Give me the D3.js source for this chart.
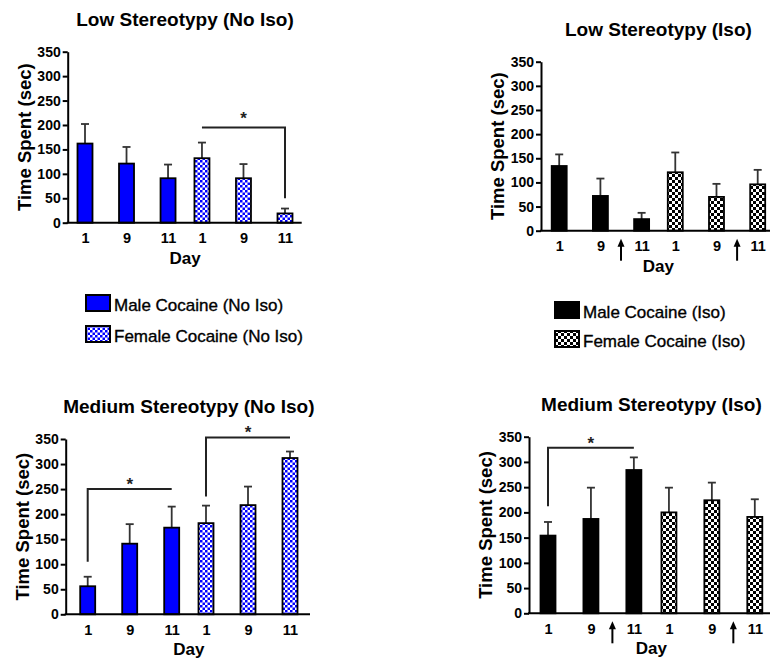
<!DOCTYPE html>
<html><head><meta charset="utf-8">
<script src="https://cdn.jsdelivr.net/npm/d3@7"></script>
<style>
body{margin:0;background:#fff}
svg text{font-family:"Liberation Sans",Arial,sans-serif;}
</style>
</head><body>
<svg id="chart" width="770" height="664"></svg>
<script>
// ---------- data ----------
const days = ["1", "9", "11"];
const groups = ["Male", "Female"];
const yTicks = [0, 50, 100, 150, 200, 250, 300, 350];

const lowNoIsoMale      = [162, 121, 91];
const lowNoIsoMaleSem   = [40, 34, 28];
const lowNoIsoFemale    = [132, 91, 19];
const lowNoIsoFemaleSem = [32, 29, 10];

const lowIsoMale        = [134, 72, 24];
const lowIsoMaleSem     = [24, 36, 13];
const lowIsoFemale      = [121, 70, 96];
const lowIsoFemaleSem   = [41, 27, 30];

const medNoIsoMale      = [56, 141, 173];
const medNoIsoMaleSem   = [19, 39, 42];
const medNoIsoFemale    = [182, 218, 312];
const medNoIsoFemaleSem = [35, 37, 13];

const medIsoMale        = [154, 187, 284];
const medIsoMaleSem     = [27, 62, 25];
const medIsoFemale      = [200, 224, 191];
const medIsoFemaleSem   = [49, 35, 35];

const titles = ["Low Stereotypy (No Iso)", "Low Stereotypy (Iso)",
                "Medium Stereotypy (No Iso)", "Medium Stereotypy (Iso)"];
const yTitle = "Time Spent (sec)";
const xTitle = "Day";
const legendNoIso = ["Male Cocaine (No Iso)", "Female Cocaine (No Iso)"];
const legendIso = ["Male Cocaine (Iso)", "Female Cocaine (Iso)"];

// significance brackets: from/to = [group, day], level = y value, legs = lower end of legs (null = none)
const bracketsLowNoIso = [{from:["Female","1"], to:["Female","11"], level:195, leftLeg:null, rightLeg:50, starLift:4}];
const bracketsMedNoIso = [
  {from:["Male","1"], to:["Male","11"], level:250, leftLeg:105, rightLeg:null, starLift:0},
  {from:["Female","1"], to:["Female","11"], level:353, leftLeg:235, rightLeg:null, starLift:0}
];
const bracketsMedIso = [{from:["Male","1"], to:["Male","11"], level:328, leftLeg:212, rightLeg:null, starLift:0}];
// arrows between day 9 and day 11 in each group (Iso panels)
const arrowsIso = [{group:"Male", between:["9","11"]}, {group:"Female", between:["9","11"]}];

// ---------- layout ----------
const svg = d3.select("#chart");
svg.append("rect").attr("width", 770).attr("height", 664).attr("fill", "#fff");

const defs = svg.append("defs");
function checker(id, color, cell) {
  const p = defs.append("pattern").attr("id", id).attr("patternUnits", "userSpaceOnUse")
    .attr("width", cell * 2).attr("height", cell * 2);
  p.append("rect").attr("width", cell * 2).attr("height", cell * 2).attr("fill", "#fff");
  p.append("rect").attr("width", cell).attr("height", cell).attr("fill", color);
  p.append("rect").attr("x", cell).attr("y", cell).attr("width", cell).attr("height", cell).attr("fill", color);
}
const BLUE = "#0000ff";
checker("chkBlue", BLUE, 2.5);
checker("chkBlack", "#000", 3);

const panels = [
  {title:titles[0], male:lowNoIsoMale, maleSem:lowNoIsoMaleSem, female:lowNoIsoFemale, femaleSem:lowNoIsoFemaleSem,
   maleFill:BLUE, femaleFill:"url(#chkBlue)", brackets:bracketsLowNoIso, arrows:[],
   axisX:67.7, axisEnd:301.7, y0:222.7, yTop:51.7, first:85, last:285},
  {title:titles[1], male:lowIsoMale, maleSem:lowIsoMaleSem, female:lowIsoFemale, femaleSem:lowIsoFemaleSem,
   maleFill:"#000", femaleFill:"url(#chkBlack)", brackets:[], arrows:arrowsIso,
   axisX:541, axisEnd:770, y0:230.7, yTop:61.7, first:559.2, last:757.7},
  {title:titles[2], male:medNoIsoMale, maleSem:medNoIsoMaleSem, female:medNoIsoFemale, femaleSem:medNoIsoFemaleSem,
   maleFill:BLUE, femaleFill:"url(#chkBlue)", brackets:bracketsMedNoIso, arrows:[],
   axisX:65.7, axisEnd:310, y0:614.3, yTop:439, first:87.7, last:290},
  {title:titles[3], male:medIsoMale, maleSem:medIsoMaleSem, female:medIsoFemale, femaleSem:medIsoFemaleSem,
   maleFill:"#000", femaleFill:"url(#chkBlack)", brackets:bracketsMedIso, arrows:arrowsIso,
   axisX:529, axisEnd:770, y0:613.3, yTop:436.7, first:548, last:754.8}
];

const BAR_W = 15;
const FONT = "Liberation Sans, Arial, sans-serif";

panels.forEach(P => {
  const g = svg.append("g");
  const y = d3.scaleLinear().domain([0, 350]).range([P.y0, P.yTop]);
  const outer = d3.scaleBand().domain(groups).range([P.first, P.last]).paddingInner(0.29);
  const inner = d3.scalePoint().domain(days).range([0, outer.bandwidth()]);
  const xPos = (grp, day) => outer(grp) + inner(day);
  const mid = (P.first + P.last) / 2;

  const rows = [];
  groups.forEach(grp => days.forEach((d, i) => {
    const isMale = grp === "Male";
    rows.push({grp, day:d, v:(isMale ? P.male : P.female)[i], sem:(isMale ? P.maleSem : P.femaleSem)[i],
               fill: isMale ? P.maleFill : P.femaleFill});
  }));

  // title
  g.append("text").attr("x", mid).attr("y", P.yTop - 26).attr("text-anchor", "middle")
    .attr("font-size", 19).attr("font-weight", "bold").attr("fill", "#000").text(P.title);

  // error bars
  const eb = g.append("g").attr("stroke", "#333").attr("stroke-width", 1.8);
  rows.forEach(r => {
    const cx = xPos(r.grp, r.day);
    eb.append("line").attr("x1", cx).attr("x2", cx).attr("y1", y(r.v)).attr("y2", y(r.v + r.sem));
    eb.append("line").attr("x1", cx - 4).attr("x2", cx + 4).attr("y1", y(r.v + r.sem)).attr("y2", y(r.v + r.sem));
  });

  // bars
  g.append("g").selectAll("rect").data(rows).join("rect")
    .attr("x", r => xPos(r.grp, r.day) - BAR_W / 2)
    .attr("width", BAR_W)
    .attr("y", r => y(r.v))
    .attr("height", r => y(0) - y(r.v))
    .attr("fill", r => r.fill)
    .attr("stroke", "#000").attr("stroke-width", 1.8);

  // y axis
  const ya = g.append("g").attr("transform", `translate(${P.axisX},0)`)
    .call(d3.axisLeft(y).tickValues(yTicks).tickSize(5).tickSizeOuter(0).tickPadding(2));
  ya.selectAll("path,line").attr("stroke", "#000").attr("stroke-width", 2);
  ya.selectAll("text").attr("font-size", 14).attr("font-weight", "bold").attr("fill", "#000")
    .attr("font-family", FONT);

  // x axis baseline
  g.append("line").attr("x1", P.axisX - 1).attr("x2", P.axisEnd).attr("y1", y(0)).attr("y2", y(0))
    .attr("stroke", "#000").attr("stroke-width", 2);
  groups.forEach(grp => {
    const xa = g.append("g").attr("transform", `translate(${outer(grp)},${y(0)})`)
      .call(d3.axisBottom(inner).tickSize(0).tickPadding(10));
    xa.select(".domain").remove();
    xa.selectAll("text").attr("font-size", 14.5).attr("font-weight", "bold").attr("fill", "#000")
      .attr("font-family", FONT);
  });

  // axis titles
  g.append("text").attr("transform", `translate(${P.axisX - 43.5},${(P.y0 + P.yTop) / 2}) rotate(-90)`)
    .attr("text-anchor", "middle").attr("dy", "0.35em").attr("font-size", 18.5).attr("font-weight", "bold")
    .attr("fill", "#000").text(yTitle);
  g.append("text").attr("x", mid).attr("y", P.y0 + 41).attr("text-anchor", "middle")
    .attr("font-size", 17).attr("font-weight", "bold").attr("fill", "#000").text(xTitle);

  // significance brackets
  P.brackets.forEach(b => {
    const x1 = xPos(b.from[0], b.from[1]), x2 = xPos(b.to[0], b.to[1]);
    let d = "";
    if (b.leftLeg !== null) d += `M${x1},${y(b.leftLeg)}L${x1},${y(b.level)}`; else d += `M${x1},${y(b.level)}`;
    d += `L${x2},${y(b.level)}`;
    if (b.rightLeg !== null) d += `L${x2},${y(b.rightLeg)}`;
    g.append("path").attr("d", d).attr("fill", "none").attr("stroke", "#222").attr("stroke-width", 2);
    g.append("text").attr("x", (x1 + x2) / 2).attr("y", y(b.level) + 1 - b.starLift).attr("text-anchor", "middle")
      .attr("font-size", 17).attr("font-weight", "bold").attr("fill", "#222").text("*");
  });

  // arrows
  P.arrows.forEach(a => {
    const ax = (xPos(a.group, a.between[0]) + xPos(a.group, a.between[1])) / 2;
    const top = y(0) + 8, bot = y(0) + 30;
    g.append("line").attr("x1", ax).attr("x2", ax).attr("y1", top + 6).attr("y2", bot)
      .attr("stroke", "#000").attr("stroke-width", 2);
    g.append("path").attr("d", `M${ax - 3.5},${top + 8}L${ax},${top}L${ax + 3.5},${top + 8}Z`).attr("fill", "#000");
  });
});

// ---------- legends ----------
function legend(x, rowsY, labels, fills, boxStroke) {
  const lg = svg.append("g");
  labels.forEach((lab, i) => {
    lg.append("rect").attr("x", x).attr("y", rowsY[i]).attr("width", 24).attr("height", 16)
      .attr("fill", fills[i]).attr("stroke", boxStroke[i]).attr("stroke-width", 2);
    lg.append("text").attr("x", x + 28).attr("y", rowsY[i] + 15.5).attr("font-size", 17)
      .attr("fill", "#000").attr("stroke", "#000").attr("stroke-width", 0.35).text(lab);
  });
}
legend(86, [295, 326], legendNoIso, [BLUE, "url(#chkBlue)"], ["#000", "#000"]);
legend(555, [302, 331], legendIso, ["#000", "url(#chkBlack)"], ["#000", "#000"]);
</script>
</body></html>
